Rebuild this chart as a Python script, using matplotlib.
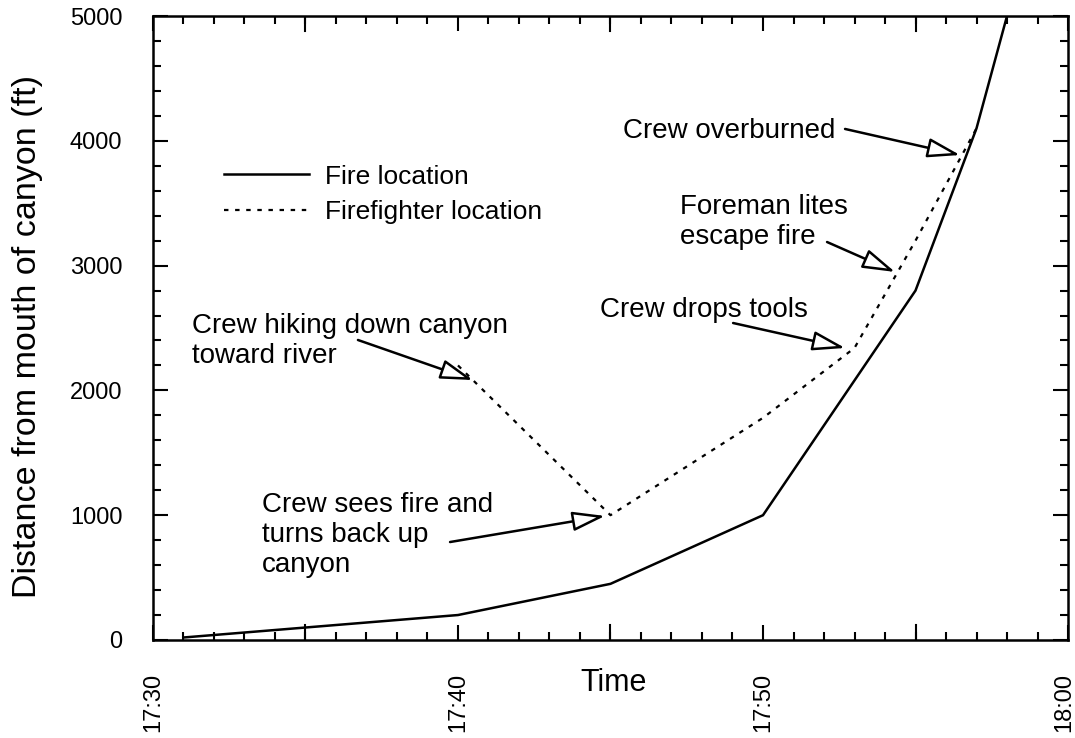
import matplotlib
matplotlib.use("Agg")
import matplotlib.pyplot as plt
from matplotlib.ticker import MultipleLocator
from matplotlib.transforms import ScaledTranslation

# distances in feet from the canyon mouth, times as clock readings
fire_time = ["17:31", "17:40", "17:45", "17:50", "17:55", "17:57", "17:58"]
fire_dist = [20, 200, 450, 1000, 2800, 4100, 5000]
crew_time = ["17:40", "17:45", "17:50", "17:53", "17:55", "17:57"]
crew_dist = [2200, 1000, 1780, 2340, 3200, 4100]

tick_labels = ["17:30", "17:40", "17:50", "18:00"]

# (text, last-line baseline anchor, arrow tail, arrow tip) in minutes after 17:30 / feet
notes = [
    ("Crew hiking down canyon\ntoward river", (1.28, 2220), (6.72, 2404), (10.49, 2083)),
    ("Crew sees fire and\nturns back up\ncanyon", (3.57, 545), (9.74, 785), (14.82, 994)),
    ("Crew drops tools", (14.66, 2588), (19.02, 2540), (22.69, 2340)),
    ("Foreman lites\nescape fire", (17.28, 3170), (22.10, 3189), (24.33, 2949)),
    ("Crew overburned", (15.41, 4022), (22.69, 4095), (26.46, 3886)),
]


def minutes(t):
    h, m = t.split(":")
    return (int(h) - 17) * 60 + int(m) - 30


plt.rcParams["font.family"] = ["Liberation Sans", "DejaVu Sans"]

fig = plt.figure(figsize=(10.75, 7.38), dpi=100)
ax = fig.add_axes([0.1423, 0.1328, 0.8512, 0.8455])

ax.plot([minutes(t) for t in fire_time], fire_dist, color="black", lw=1.8,
        label="Fire location", solid_joinstyle="miter")
ax.plot([minutes(t) for t in crew_time], crew_dist, color="black", lw=1.6,
        linestyle=(0, (2, 3)), label="Firefighter location")

ax.set_xlim(0, 30)
ax.set_ylim(0, 5000)
ax.set_xticks([minutes(t) for t in tick_labels])
ax.set_xticklabels(tick_labels, rotation=90)
ax.xaxis.set_minor_locator(MultipleLocator(1))
ax.yaxis.set_major_locator(MultipleLocator(1000))
ax.yaxis.set_minor_locator(MultipleLocator(200))
# unlabeled long ticks every 5 minutes
for m in (5, 15, 25):
    ax.axvline(m, ymin=0, ymax=15 / 624, color="black", lw=1.5)
    ax.axvline(m, ymin=1 - 15 / 624, ymax=1, color="black", lw=1.5)

ax.tick_params(which="both", direction="in", top=True, right=True, width=1.5, labelsize=17)
ax.tick_params(which="major", length=11)
ax.tick_params(which="minor", length=5.5)
ax.tick_params(axis="x", pad=24)
ax.tick_params(axis="y", pad=22)
for s in ax.spines.values():
    s.set_linewidth(1.8)

# keep the last time label inside the figure edge
last = ax.get_xticklabels()[-1]
last.set_transform(last.get_transform() + ScaledTranslation(-4 / 100, 0, fig.dpi_scale_trans))

ax.set_xlabel("Time", fontsize=22, va="top")
ax.xaxis.set_label_coords(0.503, -0.045)
ax.set_ylabel("Distance from mouth of canyon (ft)", fontsize=24.5, va="center")
ax.yaxis.set_label_coords(-0.137, 0.486)

ax.legend(loc="upper left", bbox_to_anchor=(0.078, 0.762), frameon=False,
          fontsize=19, handlelength=3.2, handletextpad=0.6, labelspacing=0.45,
          borderpad=0, borderaxespad=0)

for text, pos, tail, tip in notes:
    ax.text(pos[0], pos[1], text, fontsize=20, ha="left", va="baseline", linespacing=1.2)
    ax.annotate("", xy=tip, xytext=tail,
                arrowprops=dict(arrowstyle="-|>,head_length=1.0,head_width=0.3",
                                fc="white", ec="black", lw=1.8, mutation_scale=20,
                                shrinkA=0, shrinkB=0))

fig.savefig("out.png", dpi=100)
